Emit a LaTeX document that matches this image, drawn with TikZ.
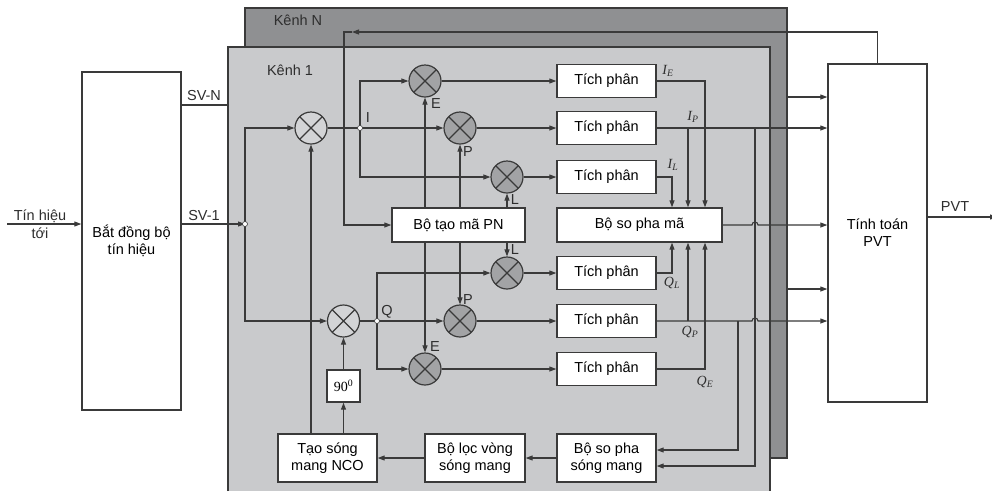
\documentclass[tikz,border=0pt]{standalone}
\usepackage{fontspec}
\setmainfont{Liberation Sans}
\newfontfamily\serifff{Liberation Serif}
\usetikzlibrary{arrows.meta,calc}
\definecolor{ln}{HTML}{3A3A3A}
\definecolor{chone}{HTML}{C9CACC}
\definecolor{chn}{HTML}{8F9092}
\definecolor{mixa}{HTML}{D3D4D6}
\definecolor{mixb}{HTML}{A2A3A5}
\begin{document}
\begin{tikzpicture}[x=1pt,y=-1pt,
  wire/.style={draw=ln, line width=1.1pt},
  arr/.style={wire, -{Triangle[length=7pt,width=5pt]}},
  blk/.style={draw=ln, fill=white, line width=1.4pt, inner sep=0pt, align=center, font=\fontsize{14.5}{17}\selectfont},
  tp/.style={blk, minimum width=99pt, minimum height=33pt},
  mixer/.style={circle, draw=ln, line width=1.2pt, minimum size=32pt, inner sep=0pt,
    path picture={\draw[ln,line width=1.1pt] (path picture bounding box.north west)--(path picture bounding box.south east) (path picture bounding box.north east)--(path picture bounding box.south west);}},
  mixone/.style={mixer, fill=mixa},
  mixtwo/.style={mixer, fill=mixb},
  dot/.style={circle, draw=ln, fill=white, inner sep=0pt, minimum size=5pt, line width=0.6pt},
  lbl/.style={inner sep=0pt, font=\fontsize{14.5}{17}\selectfont, text=ln!80!black},
  ilbl/.style={inner sep=0pt, font=\fontsize{14}{16}\serifff\itshape, text=ln!80!black}
]
\useasboundingbox (0,0) rectangle (992,491);
\fill[white] (0,0) rectangle (992,491);
% channel panels
\fill[chn] (245,8) rectangle (787,458);
\draw[ln, line width=1.2pt] (245,8) rectangle (787,458);
\fill[chone] (228,47) rectangle (770,491);
\draw[ln, line width=1.2pt] (228,491) -- (228,47) -- (770,47) -- (770,491);
\node[lbl] (kn) at (298,20) {Kênh N};
\node[lbl] (k1) at (290,70) {Kênh 1};

% x positions of vertical connectors
\coordinate (xL) at (672,0);
\coordinate (xP) at (688,0);
\coordinate (xE) at (705,0);
\coordinate (xQ) at (738,0);
\coordinate (xI) at (755,0);

% blocks
\node[blk, minimum width=99pt, minimum height=338pt] (bdb) at (131.5,241) {Bắt đồng bộ\\tín hiệu};
\node[blk, minimum width=99pt, minimum height=338pt] (pvt) at (877.5,233) {Tính toán\\PVT};
\node[blk, minimum width=133pt, minimum height=34pt] (pn) at (458.5,225) {Bộ tạo mã PN};
\node[blk, minimum width=165pt, minimum height=34pt] (spm) at (639.5,225) {Bộ so pha mã};
\node[tp] (t1) at (606.5,81) {Tích phân};
\node[tp] (t2) at (606.5,128) {Tích phân};
\node[tp] (t3) at (606.5,177) {Tích phân};
\node[tp] (t4) at (606.5,273) {Tích phân};
\node[tp] (t5) at (606.5,321) {Tích phân};
\node[tp] (t6) at (606.5,369) {Tích phân};
\node[blk, minimum width=99pt, minimum height=48pt] (nco) at (327.5,458) {Tạo sóng\\mang NCO};
\node[blk, minimum width=100pt, minimum height=48pt] (loc) at (475,458) {Bộ lọc vòng\\sóng mang};
\node[blk, minimum width=99pt, minimum height=48pt] (spsm) at (606.5,458) {Bộ so pha\\sóng mang};
\node[blk, minimum width=33pt, minimum height=32pt, font=\fontsize{14}{16}\serifff] (ph) at (343.5,386) {90\textsuperscript{0}};

% mixers
\node[mixone] (mi) at (311,128) {};
\node[mixone] (mq) at (343.5,321) {};
\node[mixtwo] (me) at (425,81) {};
\node[mixtwo] (mp) at (460,128) {};
\node[mixtwo] (ml) at (507,177) {};
\node[mixtwo] (mlq) at (507,273) {};
\node[mixtwo] (mpq) at (460,321) {};
\node[mixtwo] (meq) at (425,369) {};

% input and SV lines
\coordinate (inp) at (7,224);
\coordinate (svn) at (228,105);
\draw[arr] (inp) -- (inp -| bdb.west);
\node[lbl] (tin1) at (40,216) {Tín hiệu};
\node[lbl] (tin2) at (40,233) {tới};
\draw[wire] (svn -| bdb.east) -- (svn);
\node[lbl] (lsvn) at (204,96) {SV-N};
\node[lbl] (lsv1) at (204,216) {SV-1};

% junctions
\coordinate (j0c) at (245,224);
\coordinate (jic) at (360,128);
\coordinate (jqc) at (377,321);
\draw[arr] (j0c -| bdb.east) -- (j0c);
\draw[arr] (j0c) |- (mi);
\draw[arr] (j0c) |- (mq);
\draw[wire] (mi) -- (jic);
\draw[arr] (jic) -- (mp);
\draw[arr] (jic) |- (me);
\draw[arr] (jic) |- (ml);
\draw[wire] (mq) -- (jqc);
\draw[arr] (jqc) -- (mpq);
\draw[arr] (jqc) |- (mlq);
\draw[arr] (jqc) |- (meq);
\node[dot] (j0) at (j0c) {};
\node[dot] (ji) at (jic) {};
\node[dot] (jq) at (jqc) {};
\node[lbl] (li) at (368,118) {I};
\node[lbl] (lq) at (387,312) {Q};

% PN code to mixers
\draw[arr] (me |- pn.north) -- (me);
\draw[arr] (mp |- pn.north) -- (mp);
\draw[arr] (ml |- pn.north) -- (ml);
\draw[arr] (mlq |- pn.south) -- (mlq);
\draw[arr] (mpq |- pn.south) -- (mpq);
\draw[arr] (meq |- pn.south) -- (meq);
\node[lbl] (le1) at (436,104) {E};
\node[lbl] (lp1) at (468,152) {P};
\node[lbl] (ll1) at (515,200) {L};
\node[lbl] (ll2) at (515,250) {L};
\node[lbl] (lp2) at (468,300) {P};
\node[lbl] (le2) at (435,347) {E};

% mixers to integrators
\draw[arr] (me) -- (t1);
\draw[arr] (mp) -- (t2);
\draw[arr] (ml) -- (t3);
\draw[arr] (mlq) -- (t4);
\draw[arr] (mpq) -- (t5);
\draw[arr] (meq) -- (t6);

% NCO and 90 deg
\draw[arr] (mi |- nco.north) -- (mi);
\draw[arr] (ph |- nco.north) -- (ph);
\draw[arr] (ph) -- (mq);
\draw[arr] (spsm) -- (loc);
\draw[arr] (loc) -- (nco);

% integrator outputs
\coordinate (in1) at ($(spsm.east)+(0,-8)$);
\coordinate (in2) at ($(spsm.east)+(0,8)$);
\draw[arr] (t1.east) -| (spm.north -| xE);
\draw[arr] (t3.east) -| (spm.north -| xL);
\draw[arr] (t2.east) -- (t2.east -| pvt.west);
\draw[arr] (t2.east -| xP) -- (spm.north -| xP);
\draw[arr] (t2.east -| xI) -- (xI |- in2) -- (in2);
\draw[arr] (t4.east) -| (spm.south -| xL);
\draw[arr] (t6.east) -| (spm.south -| xE);
\draw[arr] (t5.east -| xP) -- (spm.south -| xP);
\draw[arr] (t5.east -| xQ) -- (xQ |- in1) -- (in1);
\draw[arr] (t5.east) -- ($(t5.east -| xI)+(-3,0)$) arc[start angle=180, end angle=0, radius=3pt] -- (t5.east -| pvt.west);
\draw[arr] (spm.east) -- ($(spm.east -| xI)+(-3,0)$) arc[start angle=180, end angle=0, radius=3pt] -- (spm.east -| pvt.west);
\node[ilbl] (lie) at (668,71) {I\textsubscript{E}};
\node[ilbl] (lip) at (693,117) {I\textsubscript{P}};
\node[ilbl] (lil) at (673,165) {I\textsubscript{L}};
\node[ilbl] (lql) at (672,283) {Q\textsubscript{L}};
\node[ilbl] (lqp) at (690,332) {Q\textsubscript{P}};
\node[ilbl] (lqe) at (705,382) {Q\textsubscript{E}};

% other channels to PVT
\coordinate (kna) at (787,97);
\coordinate (knb) at (787,289);
\draw[arr] (kna) -- (kna -| pvt.west);
\draw[arr] (knb) -- (knb -| pvt.west);

% feedback PVT -> PN generator
\coordinate (fbt) at (352,32);
\coordinate (fbc) at (344,32);
\draw[arr] (pvt.north) |- (fbt);
\draw[arr] (fbt) -- (fbc) |- (pn.west);

% PVT output
\coordinate (out) at (997,217);
\draw[arr] (out -| pvt.east) -- (out);
\node[lbl] (lpvt) at (955,207) {PVT};
\end{tikzpicture}
\end{document}
